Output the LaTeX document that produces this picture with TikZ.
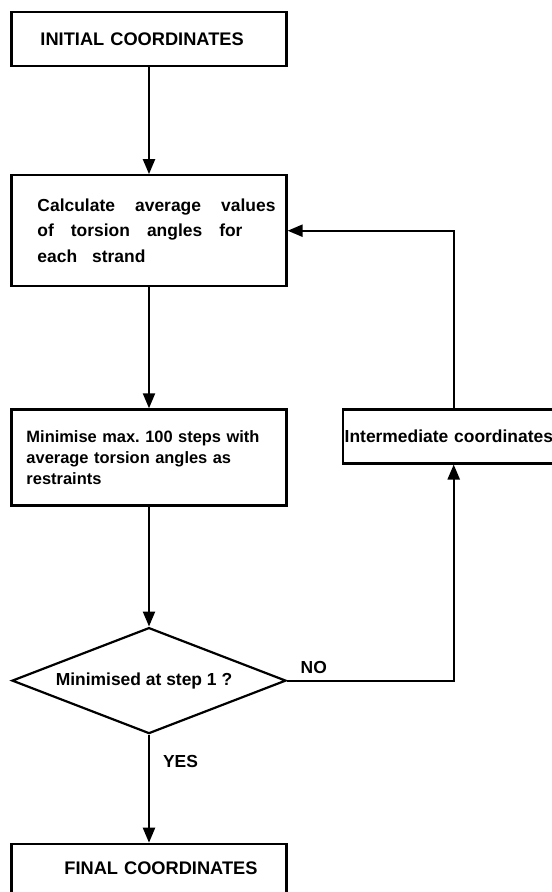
\documentclass[tikz,border=0pt]{standalone}
\usepackage{fontspec}
\setmainfont{Liberation Sans}
\usetikzlibrary{arrows.meta,positioning,shapes.geometric}
\frenchspacing

\begin{document}
\begin{tikzpicture}[
    x=1bp, y=-1bp,
    box/.style={draw=black, line width=2.2bp, align=left, minimum width=275bp,
                inner ysep=0pt, font=\bfseries\fontsize{17.5}{21}\selectfont},
    capsbox/.style={box, font=\bfseries\fontsize{18.3}{21}\selectfont},
    widebox/.style={box, font=\bfseries\fontsize{17.5}{25.5}\selectfont},
    smallbox/.style={box, font=\bfseries\fontsize{16.5}{21}\selectfont},
    decision/.style={draw=black, line width=2.2bp, diamond, aspect=2.6, inner sep=0pt,
                minimum width=274bp, minimum height=106bp,
                font=\bfseries\fontsize{17.5}{21}\selectfont},
    lbl/.style={inner sep=0pt, font=\bfseries\fontsize{17.5}{21}\selectfont},
    arrow/.style={-{Triangle[length=15bp,width=12bp]}, line width=2.2bp, draw=black}
]
\clip (0,0) rectangle (552,892);

\node[capsbox, text width=217bp, inner xsep=29bp, minimum height=54bp] (init) at (149,39) {INITIAL COORDINATES};
\node[widebox, text width=223bp, inner xsep=26bp, minimum height=111bp, below=107bp of init] (calc)
    {\makebox[238bp][l]{Calculate\hfill average\hfill values}\\
     \makebox[205bp][l]{of\hfill torsion\hfill angles\hfill for}\\
     \makebox[108bp][l]{each\hfill strand}};
\node[smallbox, text width=245bp, inner xsep=15bp, minimum height=96bp, below=121bp of calc] (mini)
    {Minimise max. 100 steps with\\ average torsion angles as\\ restraints};
\node[box, minimum width=222bp, text width=218bp, inner xsep=2bp, minimum height=54bp,
      right=54bp of mini.north east, anchor=north west] (inter) {Intermediate coordinates};
\node[decision, below=120bp of mini] (dec) {\hspace*{-10bp}Minimised at step 1 ?};
\node[capsbox, text width=217bp, inner xsep=29bp, align=right, text height=30.5bp, text depth=30bp,
      below=108bp of dec] (final) {FINAL COORDINATES};

\draw[arrow] (init) -- (calc);
\draw[arrow] (calc) -- (mini);
\draw[arrow] (mini) -- (dec);
\draw[arrow] (dec) -- node[lbl, pos=0.25, right=13bp] (yes) {YES} (final);
\draw[arrow] (dec.east) -| node[lbl, pos=0.08, above=6bp] (no) {NO} (inter.south);
\draw[arrow] (inter.north) |- (calc.east);
\end{tikzpicture}
\end{document}
